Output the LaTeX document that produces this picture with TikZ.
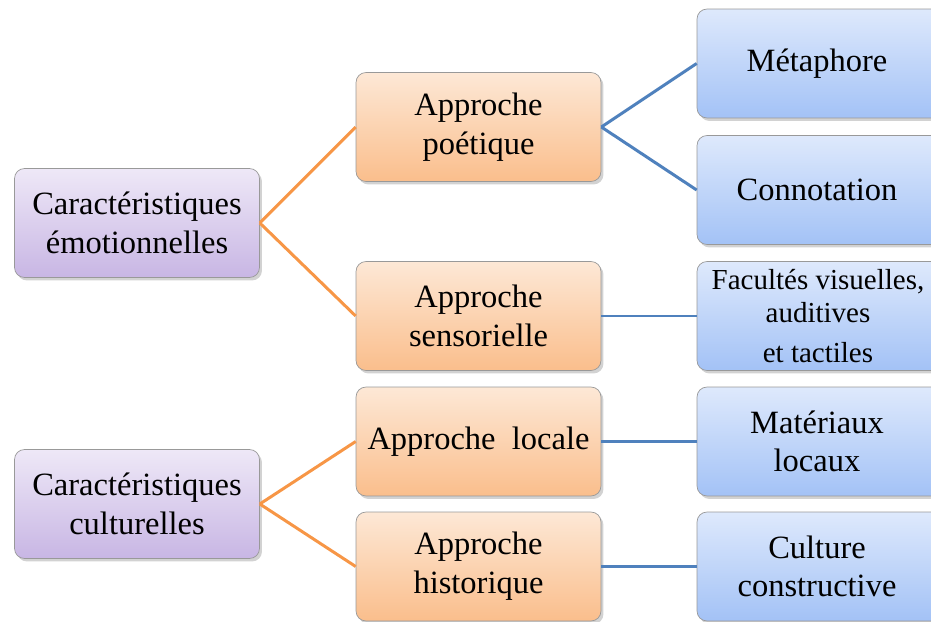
\documentclass[tikz,border=0pt]{standalone}
\usepackage{fontspec}
\setmainfont{Liberation Serif}
\usetikzlibrary{shadows}
\definecolor{violethaut}{RGB}{238,232,247}
\definecolor{violetbas}{RGB}{200,182,228}
\definecolor{orangehaut}{RGB}{253,232,214}
\definecolor{orangebas}{RGB}{250,190,140}
\definecolor{bleuhaut}{RGB}{222,233,252}
\definecolor{bleubas}{RGB}{163,194,246}
\definecolor{traitorange}{RGB}{247,150,70}
\definecolor{traitbleu}{RGB}{79,129,189}
\begin{document}
\begin{tikzpicture}[x=0.02cm,y=-0.02cm,
  boite/.style={draw=gray!80, rounded corners=0.2cm, minimum width=4.9cm,
    minimum height=2.18cm, align=center, inner sep=0pt,
    font=\fontsize{18.5}{22}\selectfont, drop shadow={opacity=0.35,shadow xshift=0.05cm,shadow yshift=-0.06cm}},
  carac/.style={boite, top color=violethaut, bottom color=violetbas},
  approche/.style={boite, top color=orangehaut, bottom color=orangebas},
  feuille/.style={boite, top color=bleuhaut, bottom color=bleubas},
  lienorange/.style={draw=traitorange, line width=1.7pt},
  lienbleu/.style={draw=traitbleu, line width=1.7pt}]
\useasboundingbox (0,0) rectangle (931,622);
\clip (0,0) rectangle (931,622);
\fill[white] (0,0) rectangle (931,622);
% colonne de gauche
\node[carac] (emo) at (137,223) {Caractéristiques\\émotionnelles};
\node[carac] (cult) at (137,504) {Caractéristiques\\culturelles};
% approches
\node[approche] (poet) at (478.5,127) {Approche\\poétique};
\node[approche] (sens) at (478.5,316) {Approche\\sensorielle};
\node[approche] (loc) at (478.5,441.5) {Approche~ locale};
\node[approche] (hist) at (478.5,566.5) {Approche\\historique};
% feuilles
\node[feuille] (meta) at (819.5,63.5) {\hspace*{-0.1cm}Métaphore};
\node[feuille] (conn) at (819.5,190) {\hspace*{-0.1cm}Connotation};
\node[feuille] (fac) at (819.5,316) {};
\node[align=center, font=\fontsize{16.5}{19}\selectfont] (factxt) at (818,316)
  {Facultés visuelles,\\auditives\\[4pt]et tactiles};
\node[feuille] (mat) at (819.5,441.5) {\hspace*{-0.1cm}Matériaux\\\hspace*{-0.1cm}locaux};
\node[feuille] (cons) at (819.5,566.5) {\hspace*{-0.1cm}Culture\\\hspace*{-0.1cm}constructive};
% liens
\path[lienorange] (emo.east) -- (poet.west);
\path[lienorange] (emo.east) -- (sens.west);
\path[lienorange] (cult.east) -- (loc.west);
\path[lienorange] (cult.east) -- (hist.west);
\path[lienbleu] (poet.east) -- (meta.west);
\path[lienbleu] (poet.east) -- (conn.west);
\path[lienbleu] (sens.east) -- (fac.west);
\path[lienbleu] (loc.east) -- (mat.west);
\path[lienbleu] (hist.east) -- (cons.west);
\end{tikzpicture}
\end{document}
